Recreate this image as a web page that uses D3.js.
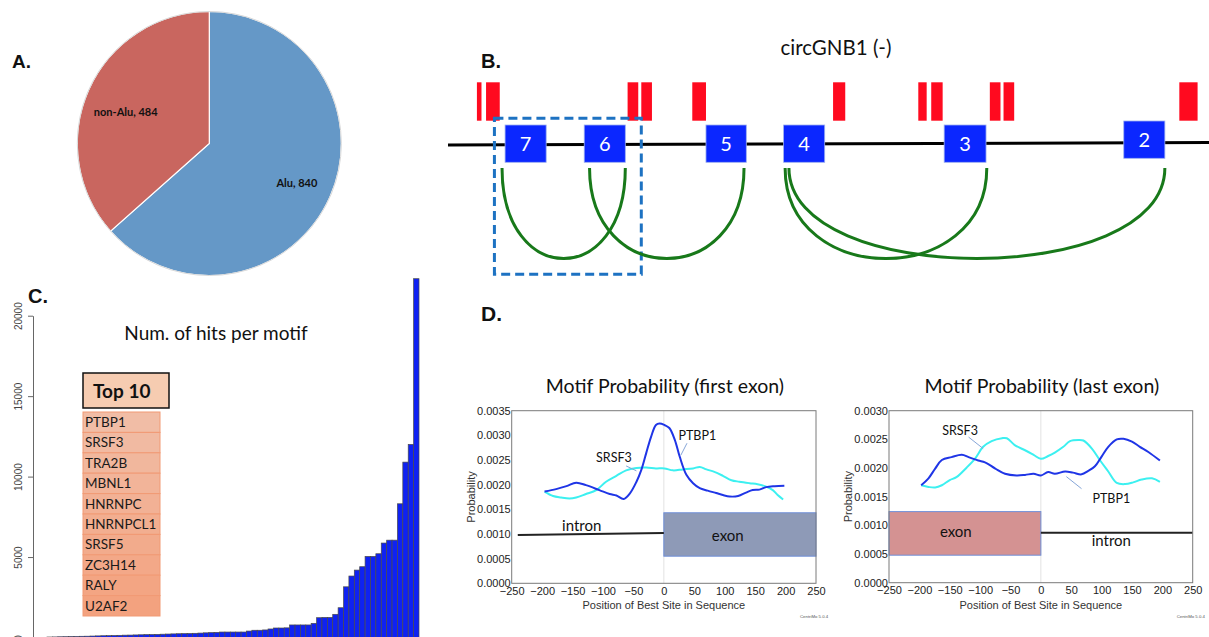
<!DOCTYPE html>
<html><head><meta charset="utf-8">
<script src="https://cdn.jsdelivr.net/npm/d3@7"></script>
<style>
html,body{margin:0;padding:0;background:#fff;}
svg{display:block;}
</style>
</head><body>
<svg id="fig" width="1209" height="637"></svg>
<script>
// ---------------- DATA ----------------
// Panel A
const pieCategories = ["Alu", "non-Alu"];
const pieValues = [840, 484];

// Panel B (positions in arbitrary gene units, 0..1000)
const exonIds   = [7, 6, 5, 4, 3, 2];
const exonStart = [75, 179, 339, 441, 652, 888];
const exonEnd   = [129, 233, 392, 495, 707, 942];
const aluStart  = [38, 50, 236, 254, 321, 506, 618, 635, 712, 730, 961];
const aluEnd    = [44, 68, 250, 268, 339, 522, 629, 650, 726, 744, 985];
const junctionFrom = [71, 186, 443, 448];
const junctionTo   = [233, 389, 708, 942];

// Panel C
const motifCounts = [30,35,45,50,60,65,75,80,90,100,110,115,125,135,145,150,160,170,180,185,195,205,215,225,235,240,250,260,275,290,305,320,
  340,340,340,340,340,400,450,450,470,530,590,590,600,780,780,780,780,880,1230,1250,1250,1440,1850,3150,3820,4190,4400,
  5040,5040,5205,5870,6050,6050,8310,10900,12000,22300];
const countTicks = [0, 5000, 10000, 15000, 20000];
const top10 = ["PTBP1","SRSF3","TRA2B","MBNL1","HNRNPC","HNRNPCL1","SRSF5","ZC3H14","RALY","U2AF2"];

// Panel D
const posTicks = [-250,-200,-150,-100,-50,0,50,100,150,200,250];
const firstProbTicks = [0,0.0005,0.0010,0.0015,0.0020,0.0025,0.0030,0.0035];
const lastProbTicks  = [0,0.0005,0.0010,0.0015,0.0020,0.0025,0.0030];

const firstPTBP1Pos = [-196,-177,-160,-144,-128,-106,-89,-78,-66,-56,-45,-37,-29,-21,-13,-7,1,9,18,26,37,48,59,72,86,97,108,122,135,146,157,168,182,198];
const firstPTBP1    = [0.00186,0.00191,0.00197,0.00204,0.00199,0.00189,0.00181,0.00178,0.00171,0.00182,0.00206,0.00230,0.00264,0.00297,0.00321,0.00324,0.00321,0.00315,0.00291,0.00257,0.00220,0.00203,0.00193,0.00188,0.00183,0.00179,0.00176,0.00177,0.00184,0.00189,0.00190,0.00195,0.00197,0.00198];
const firstSRSF3Pos = [-196,-182,-169,-155,-144,-128,-111,-95,-78,-62,-45,-29,-13,1,15,31,48,59,70,83,97,111,124,141,154,168,179,187,196];
const firstSRSF3    = [0.00186,0.00177,0.00174,0.00172,0.00174,0.00181,0.00189,0.00206,0.00218,0.00229,0.00234,0.00235,0.00233,0.00233,0.00229,0.00231,0.00233,0.00236,0.00231,0.00226,0.00218,0.00209,0.00206,0.00203,0.00201,0.00196,0.00189,0.00179,0.00170];

const lastPTBP1Pos = [-197,-185,-174,-163,-147,-130,-119,-103,-92,-75,-59,-40,-26,-12,0,12,23,40,53,67,78,89,100,111,125,136,150,163,177,196];
const lastPTBP1    = [0.00170,0.00182,0.00199,0.00214,0.00219,0.00223,0.00219,0.00213,0.00210,0.00199,0.00190,0.00187,0.00188,0.00190,0.00187,0.00193,0.00190,0.00194,0.00192,0.00189,0.00195,0.00203,0.00220,0.00237,0.00250,0.00251,0.00246,0.00237,0.00228,0.00213];
const lastSRSF3Pos = [-197,-185,-174,-163,-150,-139,-122,-108,-95,-81,-64,-56,-43,-26,-12,0,12,23,37,48,62,70,84,97,111,125,139,152,166,183,196];
const lastSRSF3    = [0.00170,0.00167,0.00166,0.00170,0.00179,0.00184,0.00201,0.00217,0.00237,0.00247,0.00252,0.00252,0.00240,0.00231,0.00223,0.00216,0.00221,0.00227,0.00237,0.00247,0.00249,0.00248,0.00234,0.00214,0.00194,0.00174,0.00172,0.00175,0.00180,0.00182,0.00176];

// ---------------- DRAW ----------------
const svg = d3.select("#fig");
const SANS = "Lato, 'Open Sans', sans-serif";
const ARIAL = "'Liberation Sans', Arial, sans-serif";

function panelLabel(txt, x, y, size) {
  svg.append("text").attr("x", x).attr("y", y).text(txt)
    .attr("font-family", ARIAL).attr("font-weight", "bold")
    .attr("font-size", size).attr("fill", "#111");
}

// ===== Panel A =====
panelLabel("A.", 12, 68, 19);
{
  const R = 132;
  const g = svg.append("g").attr("transform", "translate(209.3,143.5)");
  const pieData = d3.pie().sort(null)(pieValues);
  const arc = d3.arc().innerRadius(0).outerRadius(R);
  const colors = d3.scaleOrdinal().domain(pieCategories).range(["#6598c7", "#c9665f"]);
  g.selectAll("path.slice").data(pieData).join("path")
    .attr("class", "slice")
    .attr("d", arc)
    .attr("fill", (d, i) => colors(pieCategories[i]))
    .attr("stroke", "#fff").attr("stroke-width", 1.2);
  g.append("circle").attr("r", R).attr("fill", "none").attr("stroke", "#d8d8d8").attr("stroke-width", 1);
  const labelArc = d3.arc().innerRadius(96).outerRadius(96);
  g.selectAll("text.pl").data(pieData).join("text")
    .attr("class", "pl")
    .attr("transform", (d, i) => {
      const c = labelArc.centroid(d);
      return `translate(${c[0] + (i === 1 ? 4 : 0)},${c[1] + (i === 1 ? 8 : 0)})`;
    })
    .attr("text-anchor", "middle").attr("dy", "0.35em")
    .attr("font-family", SANS).attr("font-weight", "bold").attr("font-size", 11)
    .attr("fill", "#111")
    .text((d, i) => `${pieCategories[i]}, ${pieValues[i]}`);
}

// ===== Panel B =====
panelLabel("B.", 481, 68, 20);
{
  const x = d3.scaleLinear().domain([0, 1000]).range([448, 1209]);
  const lineY = d3.scaleLinear().domain([0, 1000]).range([145, 142.5]);
  svg.append("text").attr("x", 836).attr("y", 55).attr("text-anchor", "middle")
    .attr("font-family", SANS).attr("font-size", 20.5).attr("fill", "#111")
    .text("circGNB1 (-)");
  // backbone
  svg.append("line").attr("x1", x(0)).attr("x2", x(1000))
    .attr("y1", lineY(0)).attr("y2", lineY(1000))
    .attr("stroke", "#000").attr("stroke-width", 3);
  // Alu elements
  svg.selectAll("rect.alu").data(aluStart).join("rect")
    .attr("class", "alu")
    .attr("x", (d) => x(d)).attr("width", (d, i) => x(aluEnd[i]) - x(d))
    .attr("y", 82.3).attr("height", 38.4)
    .attr("fill", "#ff0a1f");
  // dashed highlight box
  svg.append("rect").attr("x", x(61)).attr("y", 118.3)
    .attr("width", x(254) - x(61)).attr("height", 156)
    .attr("fill", "none").attr("stroke", "#1d72c2").attr("stroke-width", 3)
    .attr("stroke-dasharray", "9,5");
  // junction arcs
  const arcTop = 168, arcBottom = 258.5;
  const arcPath = (a, b) => {
    const x1 = x(a), x2 = x(b);
    const c = arcTop + (arcBottom - arcTop) * 4 / 3;
    return `M${x1},${arcTop} C${x1},${c} ${x2},${c} ${x2},${arcTop}`;
  };
  svg.selectAll("path.junc").data(junctionFrom).join("path")
    .attr("class", "junc")
    .attr("d", (d, i) => arcPath(d, junctionTo[i]))
    .attr("fill", "none").attr("stroke", "#18791a").attr("stroke-width", 3);
  // exons
  const eg = svg.selectAll("g.exon").data(exonIds).join("g").attr("class", "exon");
  const lift = (id) => (id === 2 ? -4 : 0);
  eg.append("rect")
    .attr("x", (d, i) => x(exonStart[i]))
    .attr("width", (d, i) => x(exonEnd[i]) - x(exonStart[i]))
    .attr("y", (d) => 125 + lift(d)).attr("height", 37.3)
    .attr("fill", "#0b27ff").attr("stroke", "#9db0f0").attr("stroke-width", 0.8);
  eg.append("text")
    .attr("x", (d, i) => (x(exonStart[i]) + x(exonEnd[i])) / 2)
    .attr("y", (d) => 144 + lift(d)).attr("dy", "0.36em")
    .attr("text-anchor", "middle")
    .attr("font-family", SANS).attr("font-size", 20).attr("fill", "#fff")
    .text((d) => d);
}

// ===== Panel C =====
panelLabel("C.", 28, 303, 20);
{
  const xC = d3.scaleBand().domain(d3.range(motifCounts.length)).range([47, 419]).padding(0);
  const yC = d3.scaleLinear().domain([0, 20000]).range([637.5, 315.7]);
  svg.selectAll("rect.bar").data(motifCounts).join("rect")
    .attr("class", "bar")
    .attr("x", (d, i) => xC(i)).attr("width", xC.bandwidth())
    .attr("y", (d) => yC(d)).attr("height", (d) => yC(0) - yC(d))
    .attr("fill", "#0f22f2").attr("stroke", "#4a4a4a").attr("stroke-width", 0.7);
  const ax = svg.append("g").attr("transform", "translate(33,0)")
    .call(d3.axisLeft(yC).tickValues(countTicks).tickSize(5).tickSizeOuter(0).tickFormat(d3.format("d")));
  ax.select(".domain").attr("stroke", "#666");
  ax.selectAll(".tick line").attr("stroke", "#666");
  ax.selectAll("text").attr("transform", "rotate(-90)")
    .attr("x", 0).attr("y", -11).attr("dy", 0).attr("text-anchor", "middle")
    .attr("font-family", ARIAL).attr("font-size", 10).attr("fill", "#444");
  svg.append("text").attr("x", 216).attr("y", 340).attr("text-anchor", "middle")
    .attr("font-family", SANS).attr("font-size", 19).attr("fill", "#111")
    .text("Num. of hits per motif");
  // Top 10 header
  svg.append("rect").attr("x", 83).attr("y", 373).attr("width", 86).attr("height", 35)
    .attr("fill", "#f6ccb1").attr("stroke", "#111").attr("stroke-width", 1.5);
  svg.append("text").attr("x", 93).attr("y", 398)
    .attr("font-family", SANS).attr("font-weight", "bold").attr("font-size", 19).attr("fill", "#111")
    .text("Top 10");
  // table rows
  const rowY = d3.scaleBand().domain(d3.range(top10.length)).range([412, 616]);
  const rowColor = d3.scaleLinear().domain([0, top10.length - 1]).range(["#f1bda6", "#f3a27f"]);
  const rg = svg.selectAll("g.row").data(top10).join("g").attr("class", "row");
  rg.append("rect").attr("x", 83).attr("width", 77)
    .attr("y", (d, i) => rowY(i)).attr("height", rowY.bandwidth())
    .attr("fill", (d, i) => rowColor(i)).attr("stroke", "#f19a74").attr("stroke-width", 1);
  rg.append("text").attr("x", 85)
    .attr("y", (d, i) => rowY(i) + rowY.bandwidth() / 2).attr("dy", "0.36em")
    .attr("font-family", SANS).attr("font-size", 13.5).attr("fill", "#1a1a1a")
    .text((d) => d);
}

// ===== Panel D =====
panelLabel("D.", 481, 321, 21);
function motifPanel(opt) {
  const x = d3.scaleLinear().domain([-250, 250]).range([opt.left, opt.right]);
  const y = d3.scaleLinear().domain([0, opt.yMax]).range([opt.bottom, opt.top]);
  const g = svg.append("g");
  g.append("text").attr("x", (opt.left + opt.right) / 2 + 1).attr("y", 393).attr("text-anchor", "middle")
    .attr("font-family", SANS).attr("font-size", 19.5).attr("fill", "#111").text(opt.title);
  // zero line
  g.append("line").attr("x1", x(0)).attr("x2", x(0)).attr("y1", y(0)).attr("y2", y(opt.yMax))
    .attr("stroke", "#e2e2e2").attr("stroke-width", 1);
  // exon / intron schematic
  g.append("rect").attr("x", x(opt.exon[0])).attr("width", x(opt.exon[1]) - x(opt.exon[0]))
    .attr("y", y(opt.exonY[1])).attr("height", y(opt.exonY[0]) - y(opt.exonY[1]))
    .attr("fill", opt.exonFill).attr("stroke", "#6f8fd8").attr("stroke-width", 1);
  g.append("line").attr("x1", x(opt.intron[0])).attr("x2", x(opt.intron[1]))
    .attr("y1", y(opt.intronY[0])).attr("y2", y(opt.intronY[1]))
    .attr("stroke", "#222").attr("stroke-width", 2);
  g.append("text").attr("x", x(opt.exonText[0])).attr("y", y(opt.exonText[1])).attr("dy", "0.35em")
    .attr("text-anchor", "middle").attr("font-family", SANS).attr("font-size", 15).attr("fill", "#111").text("exon");
  g.append("text").attr("x", x(opt.intronText[0])).attr("y", y(opt.intronText[1])).attr("dy", "0.35em")
    .attr("text-anchor", "middle").attr("font-family", SANS).attr("font-size", 15).attr("fill", "#111").text("intron");
  // curves
  const line = d3.line().x((d) => x(d[0])).y((d) => y(d[1])).curve(d3.curveCatmullRom.alpha(0.5));
  opt.series.forEach((s) => {
    g.append("path").datum(s.pos.map((p, i) => [p, s.val[i]]))
      .attr("d", line).attr("fill", "none").attr("stroke", s.color).attr("stroke-width", 2);
  });
  // labels with leader lines
  opt.labels.forEach((l) => {
    g.append("line").attr("x1", x(l.from[0])).attr("y1", y(l.from[1]))
      .attr("x2", x(l.to[0])).attr("y2", y(l.to[1]))
      .attr("stroke", "#86a6d8").attr("stroke-width", 1);
    g.append("text").attr("x", x(l.at[0])).attr("y", y(l.at[1])).attr("dy", "0.35em")
      .attr("text-anchor", "middle").attr("font-family", SANS).attr("font-size", 12.5).attr("fill", "#111").text(l.name);
  });
  // frame
  g.append("rect").attr("x", opt.left).attr("y", opt.top)
    .attr("width", opt.right - opt.left).attr("height", opt.bottom - opt.top)
    .attr("fill", "none").attr("stroke", "#7a7a7a").attr("stroke-width", 1);
  // axes
  const ay = g.append("g").attr("transform", `translate(${opt.left},0)`)
    .call(d3.axisLeft(y).tickValues(opt.yTicks).tickFormat(d3.format(".4f")).tickSize(0).tickPadding(1));
  ay.select(".domain").remove();
  ay.selectAll("text").attr("font-family", ARIAL).attr("font-size", 11).attr("fill", "#222");
  const axx = g.append("g").attr("transform", `translate(0,${opt.bottom})`)
    .call(d3.axisBottom(x).tickValues(posTicks).tickFormat(d3.format("d")).tickSize(0).tickPadding(3.5));
  axx.select(".domain").remove();
  axx.selectAll("text").attr("font-family", ARIAL).attr("font-size", 11).attr("fill", "#222");
  g.append("text").attr("x", (opt.left + opt.right) / 2).attr("y", 609).attr("text-anchor", "middle")
    .attr("font-family", ARIAL).attr("font-size", 11).attr("fill", "#333").text("Position of Best Site in Sequence");
  g.append("text").attr("transform", `translate(${opt.left - 37},${(opt.top + opt.bottom) / 2}) rotate(-90)`)
    .attr("text-anchor", "middle").attr("font-family", ARIAL).attr("font-size", 11).attr("fill", "#333").text("Probability");
  g.append("text").attr("x", opt.right - 16).attr("y", 618).attr("text-anchor", "start")
    .attr("font-family", ARIAL).attr("font-size", 4.3).attr("fill", "#555").text("CentriMo 5.0.4");
}

motifPanel({
  left: 511.7, right: 816, top: 410.7, bottom: 583.3, yMax: 0.0035, yTicks: firstProbTicks,
  title: "Motif Probability (first exon)",
  exon: [0, 250], exonY: [0.00055, 0.00143], exonFill: "#8e9ab7",
  intron: [-240, 0], intronY: [0.00098, 0.00102],
  exonText: [105, 0.00097], intronText: [-135, 0.00117],
  series: [
    { pos: firstSRSF3Pos, val: firstSRSF3, color: "#3cf0f0" },
    { pos: firstPTBP1Pos, val: firstPTBP1, color: "#1f35e6" }
  ],
  labels: [
    { name: "SRSF3", at: [-82, 0.00255], from: [-62, 0.00238], to: [-45, 0.00228] },
    { name: "PTBP1", at: [55, 0.0030], from: [38, 0.00284], to: [28, 0.00260] }
  ]
});
motifPanel({
  left: 889, right: 1192.7, top: 410.7, bottom: 582.7, yMax: 0.0030, yTicks: lastProbTicks,
  title: "Motif Probability (last exon)",
  exon: [-250, 0], exonY: [0.00048, 0.00124], exonFill: "#d49292",
  intron: [0, 250], intronY: [0.00087, 0.00087],
  exonText: [-140, 0.00089], intronText: [116, 0.00073],
  series: [
    { pos: lastSRSF3Pos, val: lastSRSF3, color: "#3cf0f0" },
    { pos: lastPTBP1Pos, val: lastPTBP1, color: "#1f35e6" }
  ],
  labels: [
    { name: "SRSF3", at: [-133, 0.00265], from: [-119, 0.00254], to: [-95, 0.00234] },
    { name: "PTBP1", at: [116, 0.00147], from: [67, 0.00164], to: [42, 0.00185] }
  ]
});
</script>
</body></html>
